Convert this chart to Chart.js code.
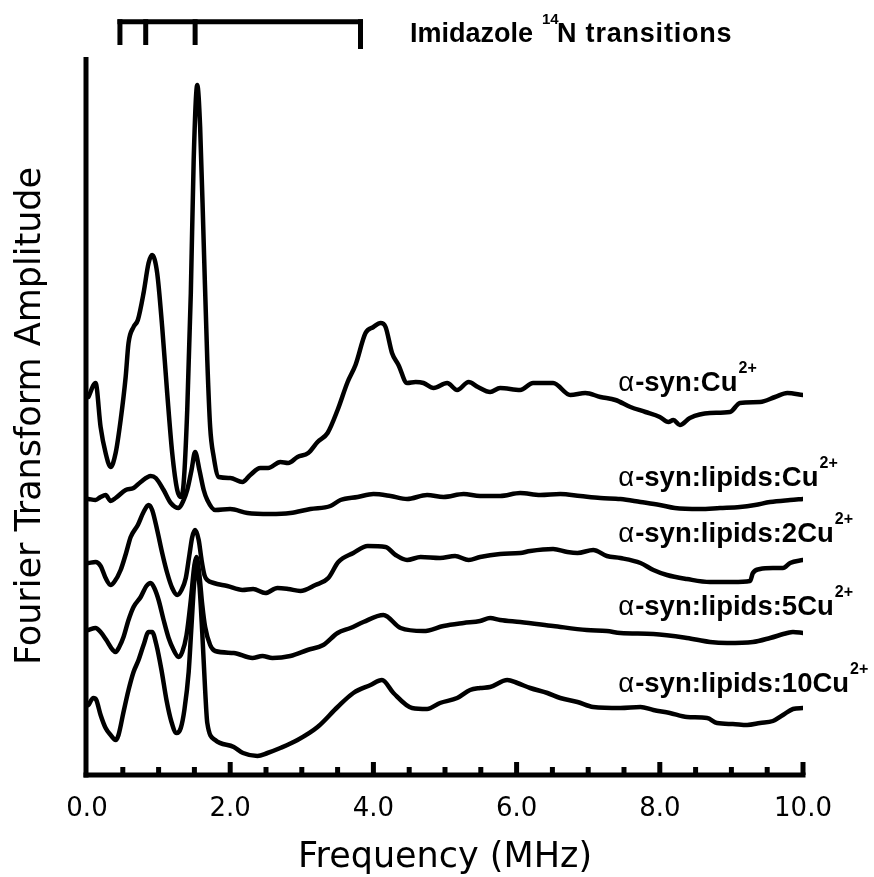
<!DOCTYPE html>
<html><head><meta charset="utf-8">
<script src="https://cdn.jsdelivr.net/npm/chart.js@4.4.0/dist/chart.umd.min.js"></script>
<style>html,body{margin:0;padding:0;background:#fff;overflow:hidden}canvas{display:block}</style>
</head><body>
<canvas id="c" width="874" height="877"></canvas>
<script>
// ---- data (frequency in MHz, amplitude in arbitrary units, traces offset as in the figure) ----
const seriesNames = ['α-syn:Cu', 'α-syn:lipids:Cu', 'α-syn:lipids:2Cu', 'α-syn:lipids:5Cu', 'α-syn:lipids:10Cu'];
const seriesSup = ['2+', '2+', '2+', '2+', '2+'];

const freqCu = [0.02,0.12,0.19,0.26,0.33,0.40,0.47,0.54,0.58,0.65,0.71,0.79,0.86,0.91,0.98,1.05,1.12,1.19,1.26,1.31,1.35,1.40,1.45,1.49,1.54,1.58,1.63,1.68,1.72,1.77,1.84,2.00,2.17,2.28,2.42,2.53,2.70,2.81,2.94,3.09,3.22,3.36,3.50,3.64,3.75,3.89,4.00,4.10,4.17,4.26,4.35,4.47,4.59,4.70,4.84,5.03,5.17,5.33,5.46,5.63,5.77,6.05,6.23,6.51,6.75,6.96,7.17,7.38,7.59,7.80,8.00,8.12,8.19,8.28,8.42,8.70,8.98,9.12,9.40,9.61,9.78,10.0];
const ampCu = [378,392,348,322,308,322,355,398,432,448,455,482,512,520,502,448,382,322,285,278,292,365,482,615,690,648,532,415,348,318,298,297,293,300,307,307,313,312,318,322,333,342,365,393,410,442,448,452,448,422,410,392,393,392,387,392,385,393,388,383,387,385,392,392,380,382,378,375,368,363,358,353,355,350,357,362,363,372,373,378,382,380];

const freqL1 = [0.02,0.12,0.19,0.26,0.33,0.40,0.54,0.65,0.75,0.89,0.96,1.07,1.17,1.28,1.35,1.40,1.46,1.51,1.57,1.63,1.68,1.79,2.00,2.24,2.56,2.84,3.12,3.40,3.54,3.78,4.00,4.24,4.47,4.75,4.98,5.26,5.49,5.77,6.05,6.33,6.61,6.89,7.17,7.45,7.73,8.00,8.21,8.56,8.84,9.12,9.33,9.54,9.82,10.0];
const ampL1 = [276,275,278,280,274,277,285,287,293,299,297,285,272,267,275,285,305,323,305,285,275,265,266,262,261,262,266,269,275,278,281,279,276,280,278,281,279,279,282,280,281,279,277,276,273,270,267,266,267,268,270,273,275,276];

const freqL2 = [0.02,0.12,0.19,0.26,0.33,0.38,0.47,0.55,0.61,0.71,0.79,0.86,0.91,0.98,1.05,1.12,1.19,1.26,1.32,1.38,1.43,1.47,1.51,1.56,1.60,1.64,1.68,1.77,1.96,2.17,2.32,2.49,2.66,2.81,2.98,3.19,3.37,3.51,3.72,3.92,4.17,4.31,4.47,4.66,4.93,5.14,5.33,5.49,5.77,6.05,6.19,6.51,6.71,6.85,7.07,7.26,7.45,7.73,7.91,8.10,8.38,8.70,9.02,9.26,9.30,9.40,9.58,9.72,9.82,10.0];
const ampL2 = [212,213,209,197,190,193,205,223,238,250,263,270,265,245,222,202,187,180,185,197,220,238,245,235,215,200,195,192,189,185,186,182,187,186,184,190,197,213,222,229,228,220,215,218,217,219,215,218,221,222,224,226,223,222,225,219,217,212,205,200,196,193,193,194,202,206,207,207,212,215];

const freqL5 = [0.02,0.12,0.19,0.27,0.36,0.40,0.45,0.51,0.58,0.65,0.75,0.83,0.89,0.94,1.00,1.07,1.14,1.21,1.28,1.33,1.39,1.45,1.50,1.53,1.57,1.61,1.65,1.72,1.79,2.05,2.31,2.45,2.59,2.84,3.08,3.30,3.50,3.68,3.86,4.14,4.38,4.70,4.98,5.26,5.49,5.63,5.77,6.05,6.51,6.98,7.26,7.45,7.91,8.38,8.70,8.94,9.30,9.54,9.78,9.86,10.0];
const ampL5 = [145,147,143,135,125,123,128,138,155,168,178,189,192,187,175,155,137,125,118,123,140,175,210,218,200,170,148,130,124,122,117,119,117,119,125,130,142,147,153,160,147,144,149,152,154,157,155,153,149,145,144,142,141,137,133,132,133,137,142,143,142];

const freqL10 = [0.02,0.09,0.13,0.19,0.26,0.33,0.40,0.44,0.51,0.58,0.65,0.72,0.79,0.86,0.91,0.97,1.04,1.11,1.18,1.25,1.31,1.36,1.42,1.46,1.50,1.53,1.57,1.61,1.65,1.68,1.79,2.05,2.18,2.38,2.52,2.70,2.94,3.22,3.50,3.72,3.96,4.12,4.28,4.54,4.75,4.93,5.17,5.35,5.49,5.63,5.87,6.01,6.19,6.43,6.61,6.85,7.07,7.45,7.73,7.91,8.14,8.38,8.66,8.80,9.02,9.22,9.40,9.58,9.72,9.86,10.0];
const ampL10 = [70,77,75,60,47,40,35,40,63,85,103,115,130,143,143,130,105,75,53,42,47,65,103,150,195,208,190,142,85,52,35,28,22,19,22,27,35,48,68,82,90,95,82,67,66,72,77,85,87,88,95,92,87,82,77,73,68,67,68,65,62,58,57,52,51,50,52,54,60,66,67];

const xTickValues = [0, 2, 4, 6, 8, 10];
const transitionFreqs = [0.46, 0.82, 1.51, 3.82];

// ---- chart ----
const pairs = (f, a) => f.map((v, i) => ({ x: v, y: a[i] }));
const seriesData = [pairs(freqCu, ampCu), pairs(freqL1, ampL1), pairs(freqL2, ampL2), pairs(freqL5, ampL5), pairs(freqL10, ampL10)];

const datasets = seriesData.map((d, i) => ({
  label: seriesNames[i] + seriesSup[i],
  data: d,
  borderColor: '#000',
  borderWidth: 4.5,
  pointRadius: 0,
  fill: false,
  cubicInterpolationMode: 'monotone',
  borderJoinStyle: 'round',
  borderCapStyle: 'round'
}));

const decor = {
  id: 'decor',
  afterDraw(chart, args, opts) {
    const { ctx } = chart;
    const xs = chart.scales.x, ys = chart.scales.y;
    ctx.save();
    ctx.strokeStyle = '#000';
    ctx.fillStyle = '#000';
    ctx.lineCap = 'butt';
    // axes
    const xLeft = xs.getPixelForValue(0) - 1;
    const xRight = xs.getPixelForValue(10);
    const yBase = ys.getPixelForValue(0);
    const yTop = ys.getPixelForValue(ys.max);
    ctx.lineWidth = 5;
    ctx.beginPath(); ctx.moveTo(xLeft, yTop); ctx.lineTo(xLeft, yBase + 2.5); ctx.stroke();
    ctx.beginPath(); ctx.moveTo(xLeft - 2.5, yBase); ctx.lineTo(xRight + 2.5, yBase); ctx.stroke();
    // inward ticks: minor every 0.5, major every 2
    for (let k = 1; k <= 20; k++) {
      const v = k * 0.5;
      const px = xs.getPixelForValue(v);
      const len = (k % 4 === 0) ? 13 : 8;
      ctx.beginPath(); ctx.moveTo(px, yBase); ctx.lineTo(px, yBase - len); ctx.stroke();
    }
    // bracket of imidazole 14N transitions
    const by = 21.7;
    const bx0 = xs.getPixelForValue(transitionFreqs[0]);
    const bx1 = xs.getPixelForValue(transitionFreqs[transitionFreqs.length - 1]);
    ctx.beginPath(); ctx.moveTo(bx0 - 2.5, by); ctx.lineTo(bx1 + 2.5, by); ctx.stroke();
    transitionFreqs.forEach((f, i) => {
      const px = xs.getPixelForValue(f);
      const bottom = (i === transitionFreqs.length - 1) ? 49 : 45;
      ctx.beginPath(); ctx.moveTo(px, by - 2.5); ctx.lineTo(px, bottom); ctx.stroke();
    });
    // bracket title
    ctx.textBaseline = 'alphabetic';
    ctx.textAlign = 'left';
    ctx.font = 'bold 27px "Liberation Sans", Arial, sans-serif';
    ctx.fillText('Imidazole', 410, 42);
    if ('letterSpacing' in ctx) ctx.letterSpacing = '0.8px';
    ctx.fillText('N transitions', 557, 42);
    if ('letterSpacing' in ctx) ctx.letterSpacing = '0px';
    ctx.font = 'bold 15px "Liberation Sans", Arial, sans-serif';
    ctx.fillText('14', 542, 24);
    // series labels
    const lx = xs.getPixelForValue(opts.labelFreq);
    opts.labelAmps.forEach((a, i) => {
      const ly = ys.getPixelForValue(a);
      let x = lx;
      ctx.font = '27.5px "Liberation Sans", Arial, sans-serif';
      ctx.fillText('α', x, ly);
      x += ctx.measureText('α').width + 1;
      const rest = seriesNames[i].slice(1);
      ctx.font = 'bold 27.5px "Liberation Sans", Arial, sans-serif';
      ctx.fillText(rest, x, ly);
      x += ctx.measureText(rest).width + 1;
      ctx.font = 'bold 16px "Liberation Sans", Arial, sans-serif';
      ctx.fillText(seriesSup[i], x, ly - 18);
    });
    ctx.restore();
  }
};

new Chart(document.getElementById('c').getContext('2d'), {
  type: 'line',
  data: { datasets },
  options: {
    responsive: false,
    animation: false,
    devicePixelRatio: 1,
    layout: { padding: { top: 57, right: 71, bottom: 0, left: 0 } },
    plugins: {
      legend: { display: false },
      tooltip: { enabled: false },
      decor: { labelFreq: 7.42, labelAmps: [384, 289, 233, 160, 83] }
    },
    scales: {
      x: {
        type: 'linear', min: 0, max: 10,
        afterFit(s) { s.height = 102; },
        afterBuildTicks(s) { s.ticks = xTickValues.map(v => ({ value: v })); },
        grid: { display: false, drawTicks: false },
        border: { display: false },
        ticks: {
          autoSkip: false, maxRotation: 0, padding: 19, color: '#000',
          font: { family: '"DejaVu Sans"', size: 26 },
          callback: v => Number(v).toFixed(1)
        },
        title: {
          display: true, text: 'Frequency (MHz)', color: '#000',
          font: { family: '"DejaVu Sans"', size: 35, lineHeight: 1.1 },
          padding: { top: 0, bottom: 0 }
        }
      },
      y: {
        type: 'linear', min: 0, max: 718,
        afterFit(s) { s.width = 87; },
        grid: { display: false, drawTicks: false },
        border: { display: false },
        ticks: { display: false },
        title: {
          display: true, text: 'Fourier Transform Amplitude', color: '#000',
          font: { family: '"DejaVu Sans"', size: 35 },
          padding: { top: 10, bottom: 0 }
        }
      }
    }
  },
  plugins: [decor]
});
</script>
</body></html>
